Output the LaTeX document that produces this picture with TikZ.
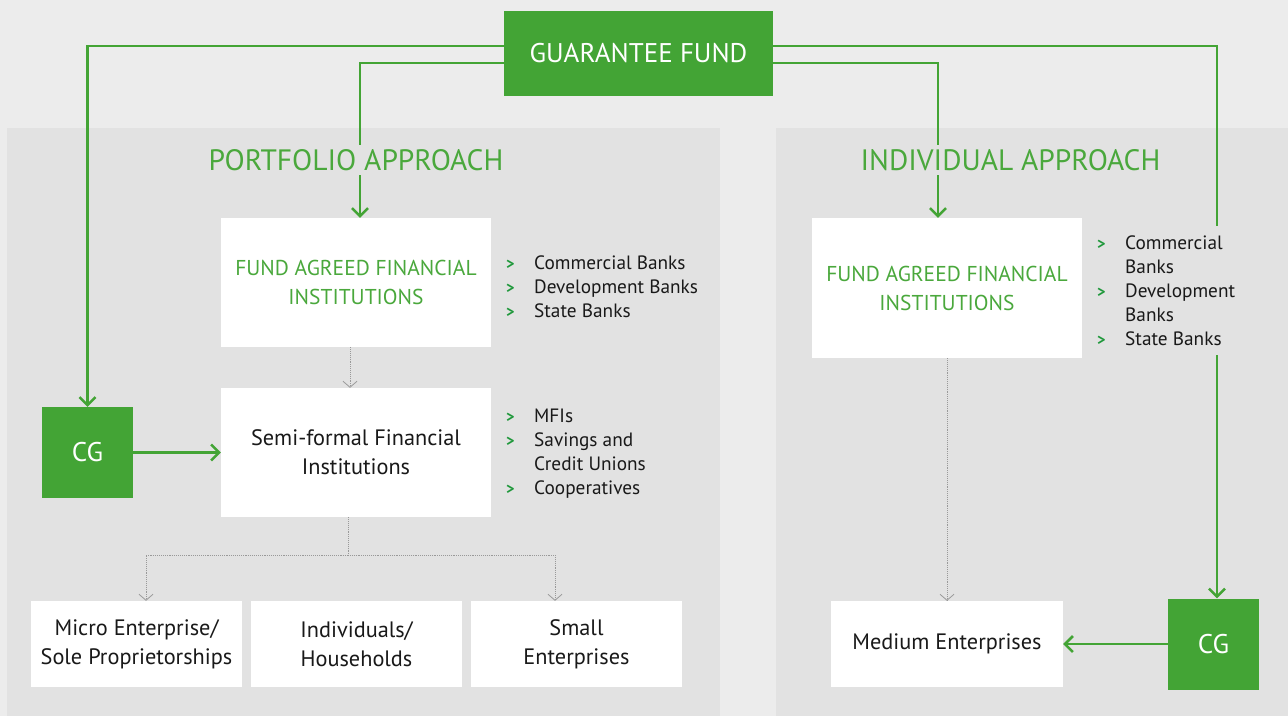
\documentclass[tikz,border=0pt]{standalone}
\usepackage{fontspec}
\setmainfont{PT Sans}
\usetikzlibrary{arrows.meta}
\definecolor{gfgreen}{HTML}{43A435}
\definecolor{txtgreen}{HTML}{4AA83C}
\definecolor{bulgreen}{HTML}{1F983B}
\definecolor{bggray}{HTML}{ECECEC}
\definecolor{panelgray}{HTML}{E2E2E2}
\definecolor{dotgray}{HTML}{999999}
\newcommand\bul{\makebox[28pt][l]{\color{bulgreen}\fontsize{16}{16}\selectfont\bfseries >}}
\begin{document}
\begin{tikzpicture}[x=1pt,y=-1pt,
	gbox/.style={fill=gfgreen,text=white,inner sep=0,font=\fontsize{27}{32}\selectfont},
	wbox/.style={fill=white,inner sep=0,align=center,text=black!90,font=\fontsize{22.3}{29}\selectfont},
	head/.style={fill=panelgray,text=txtgreen,inner sep=4pt,font=\fontsize{29.5}{34}\selectfont},
	blist/.style={anchor=west,align=left,inner sep=0,text=black!90,font=\fontsize{19.3}{24}\selectfont},
	gline/.style={gfgreen,line width=2.5pt,-{Straight Barb[length=8pt,width=16pt]}},
	dline/.style={dotgray,densely dotted,line width=.9pt},
	darrow/.style={dline,-{Straight Barb[length=6pt,width=14pt,line width=.8pt]}}]
	\fill[bggray](0,0)rectangle(1288,716);
	\fill[panelgray](7,128)rectangle(720,716);
	\fill[panelgray](776,128)rectangle(1288,716);
	\useasboundingbox(0,0)rectangle(1288,716);
	% boxes
	\node[gbox,minimum width=269pt,minimum height=85pt](gf)at(638.5,53.5){GUARANTEE FUND};
	\node[wbox,minimum width=270pt,minimum height=129pt,text=txtgreen,font=\fontsize{21.5}{29}\selectfont](fafiL)at(356,282.5){FUND AGREED FINANCIAL\\INSTITUTIONS};
	\node[wbox,minimum width=270pt,minimum height=129pt](semi)at(356,452.5){Semi-formal Financial\\Institutions};
	\node[gbox,minimum size=91pt](cgL)at(87.5,452.5){CG};
	\node[wbox,minimum width=211pt,minimum height=86pt](micro)at(136.5,644){Micro Enterprise/\\Sole Proprietorships};
	\node[wbox,minimum width=211pt,minimum height=86pt](indiv)at(356.5,644){Individuals/\\Households};
	\node[wbox,minimum width=211pt,minimum height=86pt](small)at(576.5,644){Small\\Enterprises};
	\node[wbox,minimum width=270pt,minimum height=140pt,text=txtgreen,font=\fontsize{21.5}{29}\selectfont](fafiR)at(947,288){FUND AGREED FINANCIAL\\INSTITUTIONS};
	\node[wbox,minimum width=232pt,minimum height=86pt](med)at(947,644){Medium Enterprises};
	\node[gbox,minimum size=91pt](cgR)at(1213.5,644){CG};
	% connectors
	\draw[gline]([yshift=7.5pt]gf.west)-|(cgL.north);
	\draw[gline]([yshift=-9.5pt]gf.west)-|([xshift=4pt]fafiL.north);
	\draw[gline]([yshift=7.5pt]gf.east)-|([xshift=3.5pt]cgR.north);
	\draw[gline]([yshift=-9.5pt]gf.east)-|([xshift=-9pt]fafiR.north);
	\draw[gline](cgL)--(semi);
	\draw[gline](cgR)--(med);
	\draw[darrow]([xshift=-6pt]fafiL.south)--([xshift=-6pt]semi.north);
	\coordinate(split)at(348,555);
	\draw[dline]([xshift=-8pt]semi.south)--(split);
	\draw[darrow](split)-|([xshift=9.5pt]micro.north);
	\draw[darrow](split)-|([xshift=-21.5pt]small.north);
	\draw[darrow](fafiR.south)--(med.north);
	% titles and lists
	\node[head](portf)at(356,160){PORTFOLIO APPROACH};
	\node[head](indap)at(1010.5,160){INDIVIDUAL APPROACH};
	\node[blist](banksL)at(506,287){\bul Commercial Banks\\\bul Development Banks\\\bul State Banks};
	\node[blist](semiL)at(506,454){\bul MFIs\\\bul Savings and\\\hspace*{28pt}Credit Unions\\\bul Cooperatives};
	\node[blist,fill=panelgray,inner xsep=6pt,inner ysep=10pt](banksR)at(1091,290.5){\bul Commercial\\\hspace*{28pt}Banks\\\bul Development\\\hspace*{28pt}Banks\\\bul State Banks};
\end{tikzpicture}
\end{document}
